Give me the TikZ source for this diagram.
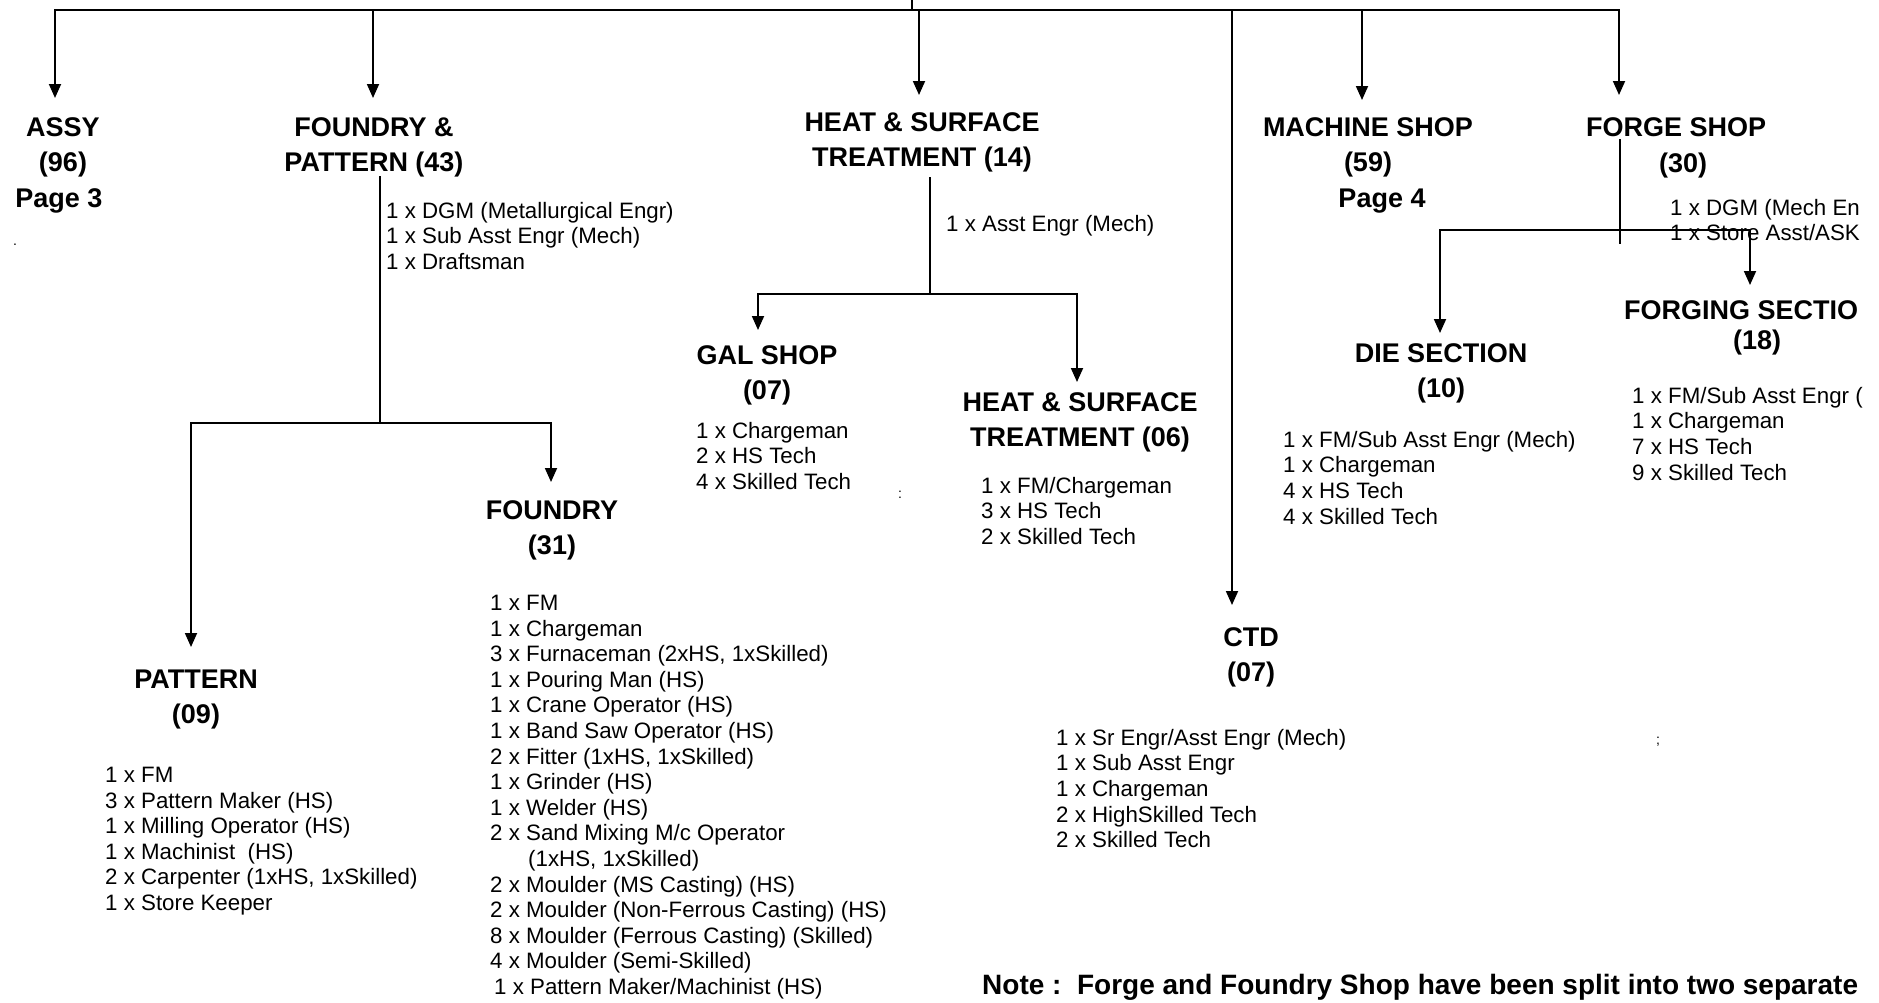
\documentclass[tikz,border=0pt]{standalone}
\usepackage{fontspec}
\setmainfont{Liberation Sans}
\usetikzlibrary{arrows.meta}
\begin{document}
\begin{tikzpicture}[x=1pt,y=-1pt,
  ln/.style={line width=1.8pt,line cap=rect},
  arr/.style={line width=1.8pt,-{Triangle[length=14pt,width=12pt]}},
  tipgap/.style={shorten >=#1pt},
  hdr/.style={font=\fontsize{27}{35}\selectfont\bfseries,align=center,inner sep=0pt,anchor=north},
  staff/.style={font=\fontsize{22.3}{25.6}\selectfont,align=left,inner sep=0pt,anchor=north west},
  speck/.style={font=\fontsize{14}{14}\selectfont,inner sep=0pt}
]
\fill[white] (0,0) rectangle (1879,1002);
\useasboundingbox (0,0) rectangle (1879,1002);
\clip (0,0) rectangle (1879,1002);

% ---------- header nodes ----------
\node[hdr] (assy) at (63,117) {ASSY\\(96)};
\node[hdr] (page3) at (59,188) {Page 3};
\node[hdr] (fp) at (374,117) {FOUNDRY \&\\PATTERN (43)};
\node[hdr] (heat14) at (922,112) {HEAT \& SURFACE\\TREATMENT (14)};
\node[hdr] (machine) at (1368,117) {MACHINE SHOP\\(59)};
\node[hdr] (page4) at (1382,189) {Page 4};
\node[hdr] (forge) at (1676,117) {FORGE SHOP};
\node[hdr] (forge30) at (1683,153) {(30)};
\node[hdr] (foundry) at (552,500) {FOUNDRY\\(31)};
\node[hdr] (pattern) at (196,670) {PATTERN\\(09)};
\node[hdr] (gal) at (767,345) {GAL SHOP\\(07)};
\node[hdr] (heat06) at (1080,392) {HEAT \& SURFACE\\TREATMENT (06)};
\node[hdr] (die) at (1441,343) {DIE SECTION\\(10)};
\node[hdr,anchor=north west] (forging) at (1624,300) {FORGING SECTIO};
\node[hdr] (forging18) at (1757,330) {(18)};
\node[hdr] (ctd) at (1251,627) {CTD\\(07)};

% ---------- staff lists ----------
\node[staff] (fpstaff) at (386,202) {1 x DGM (Metallurgical Engr)\\1 x Sub Asst Engr (Mech)\\1 x Draftsman};
\node[staff] (heat14staff) at (946,215) {1 x Asst Engr (Mech)};
\node[staff] (forgestaff) at (1670,199) {1 x DGM (Mech En\\1 x Store Asst/ASK};
\node[staff] (galstaff) at (696,422) {1 x Chargeman\\2 x HS Tech\\4 x Skilled Tech};
\node[staff] (heat06staff) at (981,477) {1 x FM/Chargeman\\3 x HS Tech\\2 x Skilled Tech};
\node[staff] (diestaff) at (1283,431) {1 x FM/Sub Asst Engr (Mech)\\1 x Chargeman\\4 x HS Tech\\4 x Skilled Tech};
\node[staff] (forgingstaff) at (1632,387) {1 x FM/Sub Asst Engr (\\1 x Chargeman\\7 x HS Tech\\9 x Skilled Tech};
\node[staff] (ctdstaff) at (1056,729) {1 x Sr Engr/Asst Engr (Mech)\\1 x Sub Asst Engr\\1 x Chargeman\\2 x HighSkilled Tech\\2 x Skilled Tech};
\node[staff] (patternstaff) at (105,767) {1 x FM\\3 x Pattern Maker (HS)\\1 x Milling Operator (HS)\\1 x Machinist\ \ (HS)\\2 x Carpenter (1xHS, 1xSkilled)\\1 x Store Keeper};
\node[staff] (foundrystaff) at (490,595) {1 x FM\\1 x Chargeman\\3 x Furnaceman (2xHS, 1xSkilled)\\1 x Pouring Man (HS)\\1 x Crane Operator (HS)\\1 x Band Saw Operator (HS)\\2 x Fitter (1xHS, 1xSkilled)\\1 x Grinder (HS)\\1 x Welder (HS)\\2 x Sand Mixing M/c Operator\\\hspace*{38pt}(1xHS, 1xSkilled)\\2 x Moulder (MS Casting) (HS)\\2 x Moulder (Non-Ferrous Casting) (HS)\\8 x Moulder (Ferrous Casting) (Skilled)\\4 x Moulder (Semi-Skilled)\\\hspace*{4pt}1 x Pattern Maker/Machinist (HS)};

\node[font=\fontsize{28}{30}\selectfont\bfseries,anchor=base west,inner sep=0pt] (note) at (982,994) {Note :\ \ Forge and Foundry Shop have been split into two separate};

\node[speck] (s1) at (15,245) {.};
\node[speck] (s2) at (900,495) {:};
\node[speck] (s3) at (1658,742) {;};

% ---------- connectors ----------
\coordinate (barL) at (55,10);
\coordinate (barR) at (1619,10);
\coordinate (parent) at (912,0);
\draw[ln] (barL) -- (barR);
\draw[ln] (parent) -- (parent |- barL);

\coordinate (jfp) at (373,10);
\coordinate (jheat) at (919,10);
\coordinate (jctd) at (1232,10);
\coordinate (jmach) at (1362,10);

\draw[arr,tipgap=19] (barL) -- (barL |- assy.north);
\draw[arr,tipgap=19] (jfp) -- (jfp |- fp.north);
\draw[arr,tipgap=17] (jheat) -- (jheat |- heat14.north);
\draw[arr,tipgap=22] (jctd) -- (jctd |- ctd.north);
\draw[arr,tipgap=17] (jmach) -- (jmach |- machine.north);
\draw[arr,tipgap=22] (barR) -- (barR |- forge.north);

% foundry & pattern
\coordinate (fpj) at (380,423);
\coordinate (fpL) at (191,423);
\coordinate (fpR) at (551,423);
\draw[ln] (fpj |- fp.south) -- (fpj);
\draw[ln] (fpL) -- (fpR);
\draw[arr,tipgap=23] (fpL) -- (fpL |- pattern.north);
\draw[arr,tipgap=18] (fpR) -- (fpR |- foundry.north);

% heat & surface
\coordinate (hj) at (930,294);
\coordinate (hL) at (758,294);
\coordinate (hR) at (1077,294);
\draw[ln,shorten <=6pt] (hj |- heat14.south) -- (hj);
\draw[ln] (hL) -- (hR);
\draw[arr,tipgap=15] (hL) -- (hL |- gal.north);
\draw[arr,tipgap=10] (hR) -- (hR |- heat06.north);

% forge shop
\coordinate (fj) at (1620,243);
\coordinate (fL) at (1440,230);
\coordinate (fR) at (1750,230);
\draw[ln,shorten <=3pt] (fj |- forge.south) -- (fj);
\draw[ln] (fL) -- (fR);
\draw[arr,tipgap=10] (fL) -- (fL |- die.north);
\draw[arr,tipgap=15] (fR) -- (fR |- forging.north);
\end{tikzpicture}
\end{document}
